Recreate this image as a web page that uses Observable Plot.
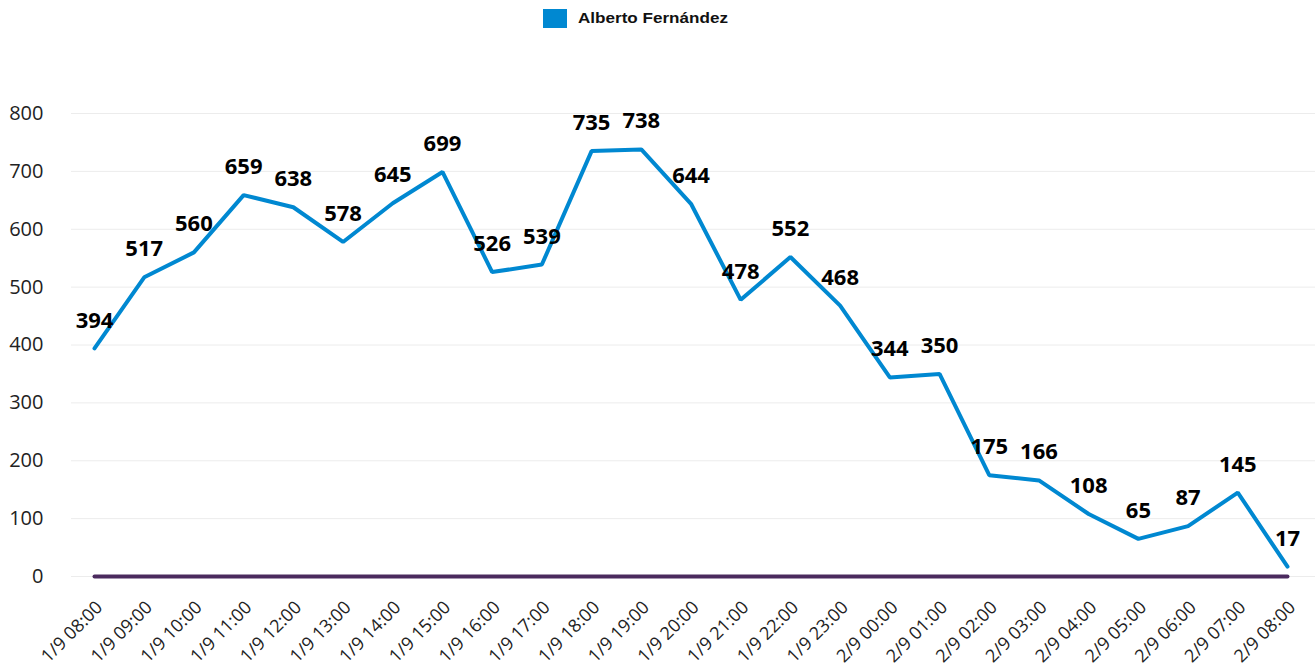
<!DOCTYPE html>
<html>
<head>
<meta charset="utf-8">
<script src="https://cdn.jsdelivr.net/npm/d3@7"></script>
<script src="https://cdn.jsdelivr.net/npm/@observablehq/plot@0.6"></script>
<style>
  html, body { margin: 0; padding: 0; background: #fff; }
  #legend { height: 40px; position: relative; font-family: "Liberation Sans", Arial, sans-serif; }
  #legend .sw { position: absolute; left: 543px; top: 9px; width: 24px; height: 19px; background: #0088D1; }
  #legend .lb { position: absolute; left: 578px; top: 10px; font-size: 14px; font-weight: bold; color: #111; transform: scaleX(1.22); transform-origin: left center; white-space: nowrap; }
  #chart svg { display: block; }
</style>
</head>
<body>
<div id="legend"><div class="sw"></div><div class="lb">Alberto Fernández</div></div>
<div id="chart"></div>
<script>
const hours = [
  "1/9 08:00","1/9 09:00","1/9 10:00","1/9 11:00","1/9 12:00","1/9 13:00","1/9 14:00","1/9 15:00",
  "1/9 16:00","1/9 17:00","1/9 18:00","1/9 19:00","1/9 20:00","1/9 21:00","1/9 22:00","1/9 23:00",
  "2/9 00:00","2/9 01:00","2/9 02:00","2/9 03:00","2/9 04:00","2/9 05:00","2/9 06:00","2/9 07:00","2/9 08:00"
];
const fernandez = [394,517,560,659,638,578,645,699,526,539,735,738,644,478,552,468,344,350,175,166,108,65,87,145,17];
const baseline = [0,0,0,0,0,0,0,0,0,0,0,0,0,0,0,0,0,0,0,0,0,0,0,0,0];
const yTicks = [0,100,200,300,400,500,600,700,800];

const rows = hours.map((h, i) => ({hour: h, value: fernandez[i]}));
const baseRows = hours.map((h, i) => ({hour: h, value: baseline[i]}));

const chart = Plot.plot({
  width: 1315,
  height: 626,
  marginTop: 73,
  marginBottom: 90,
  marginLeft: 94,
  marginRight: 28,
  style: {fontFamily: "'Open Sans', 'Noto Sans', sans-serif", background: "#fff"},
  x: {type: "point", domain: hours, padding: 0, round: false},
  y: {domain: [0, 800]},
  marks: [
    Plot.ruleY(yTicks, {stroke: "#ececec", strokeWidth: 1, insetLeft: -23, insetRight: -28}),
    Plot.axisY(yTicks, {tickSize: 0, tickPadding: 51, fontSize: 20, fill: "#222", label: null}),
    Plot.axisX({tickSize: 0, tickRotate: -45, tickPadding: 28, dx: 5, fontSize: 18, fill: "#222", label: null}),
    Plot.line(rows, {x: "hour", y: "value", stroke: "#0088D1", strokeWidth: 4, strokeLinejoin: "miter"}),
    Plot.line(baseRows, {x: "hour", y: "value", stroke: "#4B2A5E", strokeWidth: 4}),
    Plot.text(rows, {x: "hour", y: "value", text: d => String(d.value), dy: -28, fontSize: 22, fontWeight: "bold", fill: "#000"})
  ]
});
document.getElementById("chart").appendChild(chart);
</script>
</body>
</html>
